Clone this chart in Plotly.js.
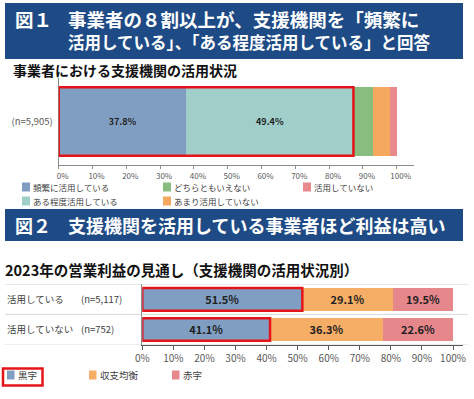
<!DOCTYPE html>
<html>
<head>
<meta charset="utf-8">
<script src="https://cdn.plot.ly/plotly-3.0.1.min.js"></script>
<style>html,body{margin:0;padding:0;background:#fff;}#chart{width:474px;height:399px;}</style>
</head>
<body>
<div id="chart"></div>
<script>
// ---- Figure 1 data ----
const fig1Categories = ['(n=5,905)'];
const fig1SeriesNames = ['頻繁に活用している', 'ある程度活用している', 'どちらともいえない', 'あまり活用していない', '活用していない'];
const fig1Frequent = [37.8];
const fig1Somewhat = [49.4];
const fig1Neither = [5.8];
const fig1Rarely = [4.9];
const fig1NotUsing = [2.1];
const fig1Ticks = [0, 10, 20, 30, 40, 50, 60, 70, 80, 90, 100];

// ---- Figure 2 data ----
const fig2Categories = ['活用している', '活用していない'];
const fig2SampleSizes = ['(n=5,117)', '(n=752)'];
const fig2SeriesNames = ['黒字', '収支均衡', '赤字'];
const fig2Profit = [51.5, 41.1];
const fig2Breakeven = [29.1, 36.3];
const fig2Loss = [19.5, 22.6];
const fig2Ticks = [0, 10, 20, 30, 40, 50, 60, 70, 80, 90, 100];

// ---- Texts ----
const header1Mark = '図１';
const header1Line1 = '事業者の８割以上が、支援機関を「頻繁に';
const header1Line2 = '活用している」、「ある程度活用している」と回答';
const subtitle1 = '事業者における支援機関の活用状況';
const header2Mark = '図２';
const header2Text = '支援機関を活用している事業者ほど利益は高い';
const subtitle2 = '2023年の営業利益の見通し（支援機関の活用状況別）';

const W = 474, H = 399;
const px = v => v / W;
const py = v => 1 - v / H;
const FONT = '"Noto Sans CJK JP", "Noto Sans", sans-serif';
const labelColor = '#1F1F1F';
const red = '#E5141B';

const fig1Colors = ['#809EC2', '#A0CFCA', '#89BD7F', '#F5A95F', '#E8898C'];
const fig1Values = [fig1Frequent, fig1Somewhat, fig1Neither, fig1Rarely, fig1NotUsing];
const fig1Labeled = [true, true, false, false, false];
const bar1Width = 0.79;

const traces = [];
fig1Values.forEach((vals, i) => {
  traces.push({
    type: 'bar', orientation: 'h',
    x: vals, y: fig1Categories,
    name: fig1SeriesNames[i],
    xaxis: 'x', yaxis: 'y',
    marker: {color: fig1Colors[i], line: {width: 0}},
    width: bar1Width,
    text: fig1Labeled[i] ? vals.map(v => v.toFixed(1) + '%') : vals.map(() => ''),
    textposition: 'inside', insidetextanchor: 'middle', textangle: 0,
    textfont: {family: FONT, size: 9, color: labelColor, weight: 'bold'},
    hoverinfo: 'skip'
  });
});

const fig2Colors = ['#809EC2', '#F6AE66', '#E6878C'];
const fig2Values = [fig2Profit, fig2Breakeven, fig2Loss];
const bar2Width = 0.75;
fig2Values.forEach((vals, i) => {
  traces.push({
    type: 'bar', orientation: 'h',
    x: vals, y: fig2Categories,
    name: fig2SeriesNames[i],
    xaxis: 'x2', yaxis: 'y2',
    marker: {color: fig2Colors[i], line: {width: 0}},
    width: bar2Width,
    text: vals.map(v => v.toFixed(1) + '%'),
    textposition: 'inside', insidetextanchor: 'middle', textangle: 0,
    textfont: {family: FONT, size: 11, color: labelColor, weight: 'bold'},
    hoverinfo: 'skip'
  });
});

const headerBlue = '#1E4B85';
const shapes = [
  {type: 'rect', xref: 'paper', yref: 'paper', x0: px(5), x1: px(463), y0: py(59), y1: py(3), fillcolor: headerBlue, line: {width: 0}, layer: 'below'},
  {type: 'rect', xref: 'paper', yref: 'paper', x0: px(5), x1: px(463), y0: py(241), y1: py(209), fillcolor: headerBlue, line: {width: 0}, layer: 'below'},
  // highlight box fig1: first two segments
  {type: 'rect', xref: 'x', yref: 'y', x0: 0, x1: fig1Frequent[0] + fig1Somewhat[0], y0: -bar1Width / 2, y1: bar1Width / 2, line: {color: red, width: 2.5}, fillcolor: 'rgba(0,0,0,0)'}
];
// fig2 row separators
for (let i = 0; i <= fig2Categories.length; i++) {
  shapes.push({type: 'line', xref: 'paper', yref: 'y2', x0: px(5), x1: px(468), y0: i - 0.5, y1: i - 0.5, line: {color: '#D9D9D9', width: 1}, layer: 'below'});
}
// fig2 highlight boxes on 黒字
fig2Profit.forEach((v, i) => {
  shapes.push({type: 'rect', xref: 'x2', yref: 'y2', x0: 0, x1: v, y0: i - bar2Width / 2, y1: i + bar2Width / 2, line: {color: red, width: 2.5}, fillcolor: 'rgba(0,0,0,0)'});
});

const annotations = [
  {text: header1Mark, xref: 'paper', yref: 'paper', x: px(13), y: py(19), xanchor: 'left', yanchor: 'middle', showarrow: false, font: {family: FONT, size: 18.5, color: '#fff', weight: 'bold'}},
  {text: header1Line1, xref: 'paper', yref: 'paper', x: px(66), y: py(19), xanchor: 'left', yanchor: 'middle', showarrow: false, font: {family: FONT, size: 18.5, color: '#fff', weight: 'bold'}},
  {text: header1Line2, xref: 'paper', yref: 'paper', x: px(66), y: py(42), xanchor: 'left', yanchor: 'middle', showarrow: false, font: {family: FONT, size: 16.5, color: '#fff', weight: 'bold'}},
  {text: subtitle1, xref: 'paper', yref: 'paper', x: px(11), y: py(70), xanchor: 'left', yanchor: 'middle', showarrow: false, font: {family: FONT, size: 14, color: '#111', weight: 'bold'}},
  {text: header2Mark, xref: 'paper', yref: 'paper', x: px(13), y: py(225), xanchor: 'left', yanchor: 'middle', showarrow: false, font: {family: FONT, size: 18, color: '#fff', weight: 'bold'}},
  {text: header2Text, xref: 'paper', yref: 'paper', x: px(66), y: py(225), xanchor: 'left', yanchor: 'middle', showarrow: false, font: {family: FONT, size: 18, color: '#fff', weight: 'bold'}},
  {text: subtitle2, xref: 'paper', yref: 'paper', x: px(3), y: py(269), xanchor: 'left', yanchor: 'middle', showarrow: false, font: {family: FONT, size: 14.5, color: '#111', weight: 'bold'}}
];
fig2Categories.forEach((c, i) => {
  annotations.push({text: c, xref: 'paper', yref: 'y2', x: px(5), y: i, xanchor: 'left', yanchor: 'middle', showarrow: false, font: {family: FONT, size: 9.5, color: '#404040'}});
  annotations.push({text: fig2SampleSizes[i], xref: 'paper', yref: 'y2', x: px(79), y: i, xanchor: 'left', yanchor: 'middle', showarrow: false, font: {family: FONT, size: 9.5, color: '#404040'}});
});

// ---- Legends (swatch + label), laid out like the reference ----
const legend1Cols = [22, 163, 303];
const legend1Rows = [187, 201];
const legend1Slots = [[0, 0], [0, 1], [1, 0], [1, 1], [2, 0]]; // [col,row] per series
fig1SeriesNames.forEach((name, i) => {
  const [c, r] = legend1Slots[i];
  const sx = legend1Cols[c], sy = legend1Rows[r];
  shapes.push({type: 'rect', xref: 'paper', yref: 'paper', x0: px(sx), x1: px(sx + 8), y0: py(sy + 4.5), y1: py(sy - 4.5), fillcolor: fig1Colors[i], line: {width: 0}});
  annotations.push({text: name, xref: 'paper', yref: 'paper', x: px(sx + 10), y: py(sy), xanchor: 'left', yanchor: 'middle', showarrow: false, borderpad: 0, font: {family: FONT, size: 8.5, color: '#404040'}});
});
const legend2Cols = [7, 89, 172];
const legend2Row = 375;
fig2SeriesNames.forEach((name, i) => {
  const sx = legend2Cols[i];
  shapes.push({type: 'rect', xref: 'paper', yref: 'paper', x0: px(sx), x1: px(sx + 7.5), y0: py(legend2Row + 4.5), y1: py(legend2Row - 4.5), fillcolor: fig2Colors[i], line: {width: 0}});
  annotations.push({text: name, xref: 'paper', yref: 'paper', x: px(sx + 10), y: py(legend2Row), xanchor: 'left', yanchor: 'middle', showarrow: false, borderpad: 0, font: {family: FONT, size: 9.5, color: '#404040'}});
});
// red box around 黒字 legend entry
shapes.push({type: 'rect', xref: 'paper', yref: 'paper', x0: px(3), x1: px(42.5), y0: py(385.5), y1: py(368.5), line: {color: red, width: 2.5}, fillcolor: 'rgba(0,0,0,0)'});

const layout = {
  width: W, height: H,
  margin: {l: 0, r: 0, t: 0, b: 0, autoexpand: false},
  paper_bgcolor: '#fff', plot_bgcolor: 'rgba(0,0,0,0)',
  barmode: 'stack', bargap: 0,
  font: {family: FONT},
  showlegend: false,
  xaxis: {
    domain: [px(58.7), px(413.6)], range: [0, 105], anchor: 'y',
    tickvals: fig1Ticks, ticktext: fig1Ticks.map(t => t + '%'),
    showline: true, linecolor: '#8C8C8C', linewidth: 1,
    ticks: 'outside', ticklen: 3, tickcolor: '#8C8C8C',
    tickfont: {family: FONT, size: 8, color: '#595959'},
    ticklabelshift: 4, ticklabelstandoff: 0,
    showgrid: false, zeroline: false, fixedrange: true
  },
  yaxis: {
    domain: [py(165), py(78)], range: [-0.5, 0.5], anchor: 'x', type: 'category',
    showline: true, linecolor: '#8C8C8C', linewidth: 1, ticks: '',
    tickfont: {family: FONT, size: 9.5, color: '#595959'},
    ticklabelstandoff: 3,
    showgrid: false, zeroline: false, fixedrange: true
  },
  xaxis2: {
    domain: [px(142.3), px(463)], range: [0, 103.2], anchor: 'y2',
    tickvals: fig2Ticks, ticktext: fig2Ticks.map(t => t + '%'),
    showline: true, linecolor: '#595959', linewidth: 1,
    ticks: 'outside', ticklen: 4, tickcolor: '#595959',
    tickfont: {family: FONT, size: 10, color: '#595959'},
    showgrid: false, zeroline: false, fixedrange: true
  },
  yaxis2: {
    domain: [py(344.5), py(284.3)], range: [1.5, -0.5], anchor: 'x2', type: 'category',
    categoryarray: fig2Categories, categoryorder: 'array',
    showline: true, linecolor: '#8C8C8C', linewidth: 1, showticklabels: false, ticks: '',
    showgrid: false, zeroline: false, fixedrange: true
  },
  shapes: shapes,
  annotations: annotations
};

Plotly.newPlot('chart', traces, layout, {displayModeBar: false, staticPlot: true});
</script>
</body>
</html>
